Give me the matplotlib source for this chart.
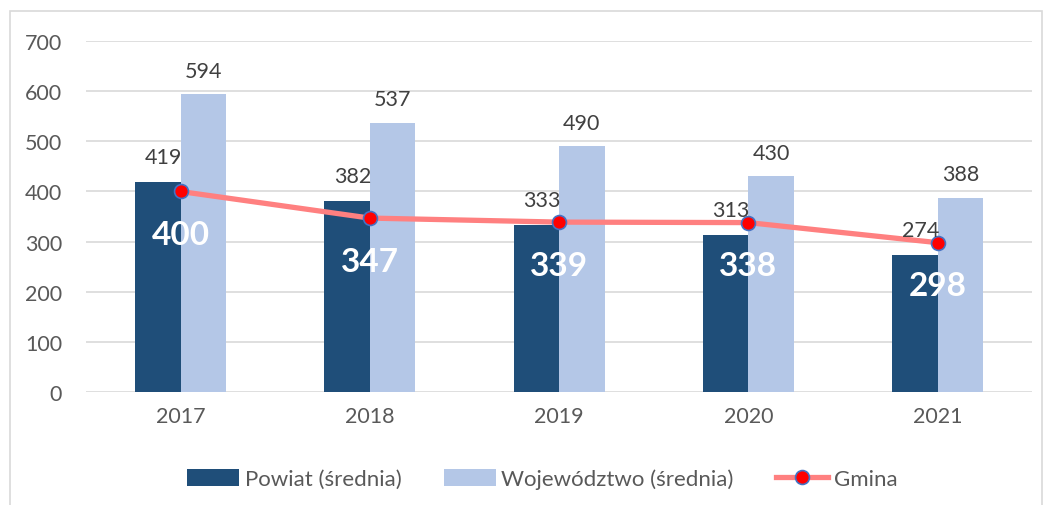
import matplotlib as mpl
mpl.use('Agg')
import matplotlib.pyplot as plt
import numpy as np

plt.rcParams['font.family'] = ['Lato', 'DejaVu Sans']

years = ['2017', '2018', '2019', '2020', '2021']
powiat = [419, 382, 333, 313, 274]
wojewodztwo = [594, 537, 490, 430, 388]
gmina = [400, 347, 339, 338, 298]

c_pow = '#1f4e79'
c_woj = '#b4c7e7'
c_line = '#ff8080'
c_text = '#595959'

fig = plt.figure(figsize=(10.47, 5.06), dpi=100)
ax = fig.add_axes([0.082, 0.223, 0.904, 0.694])

x = np.arange(len(years))
w = 0.24
b1 = ax.bar(x - w / 2, powiat, w, color=c_pow, label='Powiat (średnia)', zorder=2)
b2 = ax.bar(x + w / 2, wojewodztwo, w, color=c_woj, label='Województwo (średnia)', zorder=2)
l1, = ax.plot(x, gmina, color=c_line, lw=3.8, marker='o', markersize=10,
              markerfacecolor='#ff0000', markeredgecolor='#4472c4', markeredgewidth=1.2,
              label='Gmina', zorder=3)

for i in range(len(years)):
    ax.annotate(str(powiat[i]), (x[i] - w / 2, powiat[i]), xytext=(4, 18),
                textcoords='offset points', ha='center', va='center',
                fontsize=15.5, color='#404040', zorder=4)
    ax.annotate(str(wojewodztwo[i]), (x[i] + w / 2, wojewodztwo[i]), xytext=(0, 17),
                textcoords='offset points', ha='center', va='center',
                fontsize=15.5, color='#404040', zorder=4)
    ax.annotate(str(gmina[i]), (x[i], gmina[i]), xytext=(0, -31),
                textcoords='offset points', ha='center', va='center',
                fontsize=24, fontweight='bold', color='white', zorder=5)

ax.set_xlim(-0.5, len(years) - 0.5)
ax.set_ylim(0, 700)
ax.set_yticks(range(0, 701, 100))
ax.set_xticks(x)
ax.set_xticklabels(years)
ax.tick_params(axis='both', length=0, labelsize=15.5, colors=c_text)
ax.tick_params(axis='y', pad=17)
ax.tick_params(axis='x', pad=10)
ax.grid(axis='y', color='#d9d9d9', lw=1.2, zorder=0)
ax.set_axisbelow(True)
for s in ax.spines.values():
    s.set_visible(False)

ax.legend([b1, b2, l1], ['Powiat (średnia)', 'Województwo (średnia)', 'Gmina'],
          loc='upper center', bbox_to_anchor=(0.482, -0.16), ncol=3, frameon=False,
          fontsize=16, labelcolor=c_text, handlelength=2.35, handleheight=0.8,
          columnspacing=1.9, handletextpad=0.25)

fig.patches.append(plt.Rectangle((0.01, -0.01), 0.985, 0.987, transform=fig.transFigure,
                                 fill=False, edgecolor='#d9d9d9', lw=1.2))

fig.savefig('out.png', dpi=100)
